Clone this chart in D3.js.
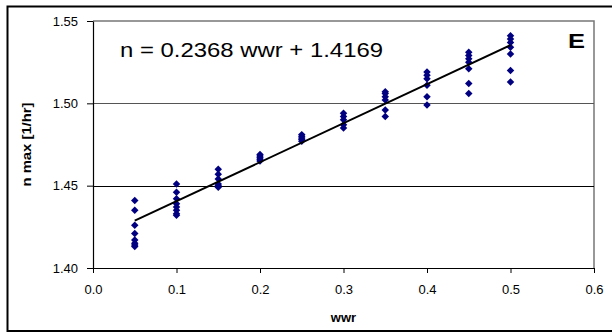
<!DOCTYPE html>
<html>
<head>
<meta charset="utf-8">
<script src="https://cdn.jsdelivr.net/npm/d3@7"></script>
<style>
  html, body { margin: 0; padding: 0; background: #fff; overflow: hidden; }
  svg { display: block; }
  svg text { font-family: "Liberation Sans", Arial, sans-serif; }
</style>
</head>
<body>
<svg id="chart"></svg>
<script>
// wwr levels and the n max values read at each level
const wwrLevels = [0.05, 0.10, 0.15, 0.20, 0.25, 0.30, 0.35, 0.40, 0.45, 0.50];
const nMaxValues = [
    [1.441, 1.435, 1.426, 1.421, 1.417, 1.415, 1.414, 1.413],
    [1.451, 1.446, 1.442, 1.439, 1.437, 1.435, 1.433, 1.432],
    [1.460, 1.457, 1.454, 1.451, 1.450, 1.449],
    [1.469, 1.468, 1.467, 1.466, 1.465],
    [1.481, 1.480, 1.479, 1.478, 1.477],
    [1.494, 1.492, 1.490, 1.487, 1.485],
    [1.507, 1.506, 1.504, 1.502, 1.496, 1.492],
    [1.519, 1.517, 1.515, 1.511, 1.504, 1.499],
    [1.531, 1.529, 1.527, 1.525, 1.521, 1.512, 1.506],
    [1.541, 1.539, 1.537, 1.534, 1.530, 1.520, 1.513]
];
const xTicks = [0.0, 0.1, 0.2, 0.3, 0.4, 0.5, 0.6];
const yTicks = [1.40, 1.45, 1.50, 1.55];
const slope = 0.2368;
const intercept = 1.4169;
const equationText = 'n = 0.2368 wwr + 1.4169';
const panelLabel = 'E';

const width = 612;
const height = 333;
const margin = {top: 21, right: 18, bottom: 65, left: 93};

const svg = d3.select('#chart')
    .attr('width', width)
    .attr('height', height);

// Outer frame (right edge runs off the picture)
svg.append('path')
    .attr('d', `M${width},6.5H7.5V331H${width}`)
    .attr('fill', 'none')
    .attr('stroke', '#000')
    .attr('stroke-width', 2);

const x = d3.scaleLinear().domain([0, 0.6]).range([margin.left, width - margin.right]);
const y = d3.scaleLinear().domain([1.40, 1.55]).range([height - margin.bottom, margin.top]);

// Plot border (top / right) in gray
svg.append('path')
    .attr('d', `M${x(0)},${y(1.55)}H${x(0.6)}V${y(1.40)}`)
    .attr('fill', 'none')
    .attr('stroke', '#777')
    .attr('stroke-width', 1.5);

// Gridlines
svg.append('g')
    .selectAll('line')
    .data([1.45, 1.50])
    .join('line')
    .attr('x1', x(0))
    .attr('x2', x(0.6))
    .attr('y1', d => Math.round(y(d)) + 0.5)
    .attr('y2', d => Math.round(y(d)) + 0.5)
    .attr('stroke', d => d === 1.50 ? '#555' : '#000')
    .attr('stroke-width', 1.2);

// Axes
const xAxis = svg.append('g')
    .attr('transform', `translate(0,${y(1.40)})`)
    .call(d3.axisBottom(x).tickValues(xTicks).tickFormat(d3.format('.1f')).tickSize(5).tickSizeOuter(0));
const yAxis = svg.append('g')
    .attr('transform', `translate(${x(0)},0)`)
    .call(d3.axisLeft(y).tickValues(yTicks).tickFormat(d3.format('.2f')).tickSize(6).tickSizeOuter(0));

[xAxis, yAxis].forEach(g => {
    g.select('.domain').attr('stroke', '#000').attr('stroke-width', 1.2);
    g.selectAll('.tick line').attr('stroke', '#000');
    g.selectAll('.tick text')
        .attr('fill', '#000')
        .style('font-size', '13px')
        .style('font-family', '"Liberation Sans", Arial, sans-serif');
});
xAxis.selectAll('.tick text').attr('dy', '1.4em');
yAxis.selectAll('.tick text').attr('x', -15);

// Scatter points
const points = [];
wwrLevels.forEach((w, i) => nMaxValues[i].forEach(v => points.push({w, v})));

const diamond = d3.symbol().type(d3.symbolSquare).size(28);
svg.append('g')
    .selectAll('path')
    .data(points)
    .join('path')
    .attr('d', diamond)
    .attr('transform', d => `translate(${x(d.w)},${y(d.v)}) rotate(45)`)
    .attr('fill', '#000080');

// Trend line
const trendLine = d3.line()
    .x(d => x(d))
    .y(d => y(slope * d + intercept));
svg.append('path')
    .datum([wwrLevels[0], wwrLevels[wwrLevels.length - 1]])
    .attr('d', trendLine)
    .attr('fill', 'none')
    .attr('stroke', '#000')
    .attr('stroke-width', 2);

// Equation and panel label
svg.append('text')
    .attr('x', 120)
    .attr('y', 57)
    .attr('textLength', 263)
    .attr('lengthAdjust', 'spacingAndGlyphs')
    .style('font-size', '20px')
    .text(equationText);

svg.append('text')
    .attr('x', 568)
    .attr('y', 48)
    .attr('textLength', 17)
    .attr('lengthAdjust', 'spacingAndGlyphs')
    .style('font-size', '21px')
    .style('font-weight', 'bold')
    .text(panelLabel);

// Axis titles
svg.append('text')
    .attr('x', (x(0) + x(0.6)) / 2)
    .attr('y', 322)
    .attr('text-anchor', 'middle')
    .style('font-size', '13px')
    .style('font-weight', 'bold')
    .text('wwr');

svg.append('text')
    .attr('transform', `translate(31,${(y(1.40) + y(1.55)) / 2}) rotate(-90)`)
    .attr('text-anchor', 'middle')
    .attr('textLength', 84)
    .attr('lengthAdjust', 'spacingAndGlyphs')
    .style('font-size', '13px')
    .style('font-weight', 'bold')
    .text('n max [1/hr]');
</script>
</body>
</html>
